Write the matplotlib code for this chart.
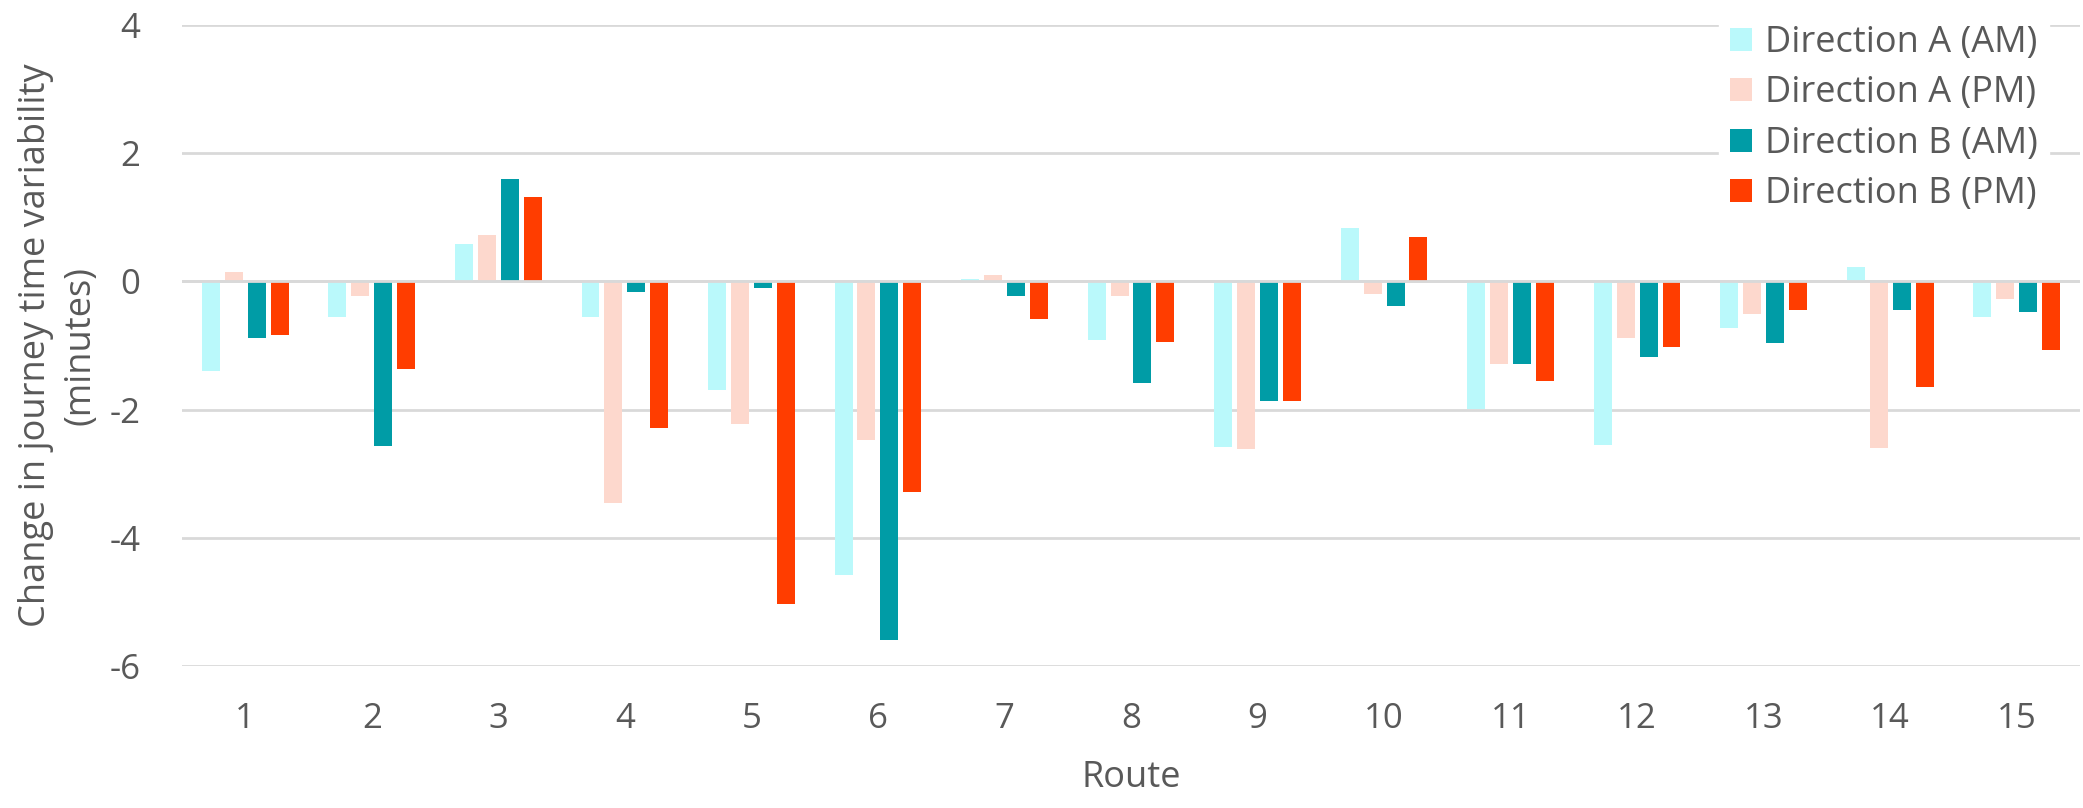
import matplotlib
matplotlib.use("Agg")
import matplotlib.pyplot as plt
import numpy as np

routes = [str(i) for i in range(1, 16)]

dir_a_am = [-1.40, -0.55, 0.59, -0.55, -1.69, -4.58, 0.03, -0.92, -2.59, 0.84,
            -1.99, -2.55, -0.72, 0.23, -0.56]
dir_a_pm = [0.14, -0.22, 0.73, -3.46, -2.23, -2.47, 0.10, -0.22, -2.62, -0.19,
            -1.29, -0.89, -0.51, -2.60, -0.28]
dir_b_am = [-0.88, -2.57, 1.59, -0.16, -0.11, -5.60, -0.23, -1.58, -1.87, -0.39,
            -1.29, -1.18, -0.96, -0.44, -0.48]
dir_b_pm = [-0.83, -1.37, 1.31, -2.29, -5.03, -3.28, -0.58, -0.94, -1.86, 0.70,
            -1.56, -1.03, -0.44, -1.65, -1.07]

series = [
    ("Direction A (AM)", dir_a_am, "#BAF9FB"),
    ("Direction A (PM)", dir_a_pm, "#FDD8CD"),
    ("Direction B (AM)", dir_b_am, "#009CA6"),
    ("Direction B (PM)", dir_b_pm, "#FF3D00"),
]

TEXT = "#595959"
plt.rcParams["font.family"] = ["Open Sans", "DejaVu Sans"]

fig = plt.figure(figsize=(20.83, 8.08), dpi=100)
ax = fig.add_axes([182 / 2083, 1 - 666 / 808, (2080 - 182) / 2083, (666 - 25) / 808])

x = np.arange(len(routes))
pitch = 0.181
width = 0.142
for i, (name, vals, color) in enumerate(series):
    ax.bar(x + (i - 1.5) * pitch, vals, width=width, color=color,
           label=name, zorder=3)

ax.set_xlim(-0.5, len(routes) - 0.5)
ax.set_ylim(-6, 4)
ax.set_yticks([-6, -4, -2, 0, 2, 4])
ax.set_yticklabels(["-6", "-4", "-2", "0", "2", "4"])
ax.set_xticks(x)
ax.set_xticklabels(routes)
ax.grid(axis="y", color="#D9D9D9", linewidth=2, zorder=0)
ax.axhline(0, color="#D9D9D9", linewidth=2, zorder=4)
for s in ax.spines.values():
    s.set_visible(False)
ax.tick_params(length=0, labelsize=25, colors=TEXT)
ax.tick_params(axis="y", pad=30)
ax.tick_params(axis="x", pad=26)

ax.set_xlabel("Route", fontsize=26, color=TEXT, labelpad=17)
ax.set_ylabel("Change in journey time variability\n(minutes)", fontsize=26,
              color=TEXT, labelpad=8, linespacing=1.3)

leg = ax.legend(loc="upper right", bbox_to_anchor=(0.993, 1.045), fontsize=26,
                frameon=True, framealpha=1, edgecolor="white",
                handlelength=0.62, handleheight=0.62, handletextpad=0.35,
                labelspacing=0.4, borderpad=0.3)
for t in leg.get_texts():
    t.set_color(TEXT)

fig.savefig("out.png", dpi=100, facecolor="white")
